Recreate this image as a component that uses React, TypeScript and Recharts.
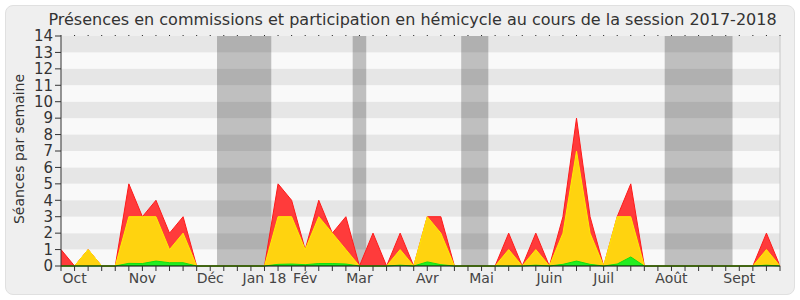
import { Area, ComposedChart, ReferenceArea, ReferenceLine, XAxis, YAxis } from "recharts";

const weeks = Array.from({ length: 54 }, (_, i) => i);

const totalSeances = [
  1, 0, 1, 0, 0, 5, 3, 4, 2, 3, 0, 0, 0, 0, 0, 0, 5, 4, 1, 4, 2, 3, 0, 2, 0, 2, 0,
  3, 3, 0, 0, 0, 0, 2, 0, 2, 0, 3, 9, 3, 0, 3, 5, 0, 0, 0, 0, 0, 0, 0, 0, 0, 2, 0,
];
const commissionSeances = [
  0, 0, 1, 0, 0, 3, 3, 3, 1, 2, 0, 0, 0, 0, 0, 0, 3, 3, 1, 3, 2, 1, 0, 0, 0, 1, 0,
  3, 2, 0, 0, 0, 0, 1, 0, 1, 0, 2, 7, 2, 0, 3, 3, 0, 0, 0, 0, 0, 0, 0, 0, 0, 1, 0,
];
const hemicycleSeances = [
  0, 0, 0, 0, 0, 0.16, 0.15, 0.3, 0.2, 0.2, 0, 0, 0, 0, 0, 0, 0.1, 0.12, 0.08, 0.15,
  0.15, 0.12, 0, 0, 0, 0.05, 0, 0.25, 0.08, 0, 0, 0, 0, 0, 0, 0.05, 0, 0.1, 0.3, 0.1,
  0, 0.12, 0.55, 0, 0, 0, 0, 0, 0, 0, 0, 0, 0.05, 0,
];

const monthWeeks = [1, 6, 11, 15, 18, 22, 27, 31, 36, 40, 45, 50];
const monthNames = ["Oct", "Nov", "Déc", "Jan 18", "Fév", "Mar", "Avr", "Mai", "Juin", "Juil", "Août", "Sept"];

// vacances parlementaires (en semaines)
const breaks = [
  [11.5, 15.5],
  [21.5, 22.5],
  [29.5, 31.5],
  [44.5, 49.5],
];

const yTicks = Array.from({ length: 15 }, (_, i) => i);

const data = weeks.map((w) => ({
  week: w,
  total: totalSeances[w],
  commission: commissionSeances[w],
  hemicycle: hemicycleSeances[w],
}));

const weekLabel = (w: number) => {
  const k = monthWeeks.indexOf(w);
  return k >= 0 ? monthNames[k] : "";
};

const font = "'DejaVu Sans', Verdana, sans-serif";

export default function App() {
  return (
    <div style={{ position: "absolute", left: 0, top: 0, width: 800, height: 300, fontFamily: font }}>
      <div
        style={{
          position: "absolute",
          left: 5,
          top: 5,
          width: 788,
          height: 288,
          background: "#efefef",
          border: "1px solid #e0e0e0",
          borderRadius: 8,
        }}
      />
      <div
        style={{
          position: "absolute",
          left: 0,
          width: 825,
          top: 10,
          textAlign: "center",
          fontSize: 16,
          color: "#333",
          whiteSpace: "nowrap",
        }}
      >
        Présences en commissions et participation en hémicycle au cours de la session 2017-2018
      </div>
      <div
        style={{
          position: "absolute",
          left: 19,
          top: 149,
          transform: "translate(-50%, -50%) rotate(-90deg)",
          fontSize: 14,
          color: "#333",
          whiteSpace: "nowrap",
        }}
      >
        Séances par semaine
      </div>
      <div style={{ position: "absolute", left: 0, top: 0 }}>
        <ComposedChart width={800} height={300} data={data} margin={{ top: 34, right: 20, bottom: 4, left: 21 }}>
          {yTicks
            .filter((t) => t % 2 === 1)
            .map((t) => (
              <ReferenceArea key={"s" + t} y1={t} y2={t + 1} fill="#e6e6e6" fillOpacity={1} stroke="none" />
            ))}
          {yTicks
            .filter((t) => t % 2 === 0 && t < 14)
            .map((t) => (
              <ReferenceArea key={"l" + t} y1={t} y2={t + 1} fill="#f9f9f9" fillOpacity={1} stroke="none" />
            ))}
          {breaks.map(([a, b]) => (
            <ReferenceArea key={a} x1={a} x2={b} fill="#000" fillOpacity={0.23} stroke="none" />
          ))}
          <ReferenceLine x={53} stroke="#c8c8c8" strokeWidth={1} />
          <XAxis
            xAxisId="top"
            orientation="top"
            dataKey="week"
            type="number"
            domain={[0, 53]}
            ticks={weeks}
            interval={0}
            height={2}
            tickSize={1}
            axisLine={false}
            tickLine={{ stroke: "#222" }}
            tickFormatter={() => ""}
          />
          <XAxis
            dataKey="week"
            type="number"
            domain={[0, 53]}
            ticks={weeks}
            interval={0}
            height={30}
            tickSize={5}
            tickFormatter={weekLabel}
            axisLine={{ stroke: "#000" }}
            tickLine={{ stroke: "#333" }}
            tick={{ fontSize: 14, fill: "#444", fontFamily: font }}
          />
          <YAxis
            type="number"
            domain={[0, 14]}
            ticks={yTicks}
            interval={0}
            width={40}
            tickSize={6}
            axisLine={{ stroke: "#333" }}
            tickLine={{ stroke: "#333" }}
            tick={{ fontSize: 15, fill: "#333", fontFamily: font }}
          />
          <Area
            type="linear"
            dataKey="total"
            stroke="#ff1a1a"
            strokeWidth={1}
            fill="#ff3b3b"
            fillOpacity={1}
            isAnimationActive={false}
          />
          <Area
            type="linear"
            dataKey="commission"
            stroke="#ffee00"
            strokeWidth={1}
            fill="#ffd30f"
            fillOpacity={1}
            isAnimationActive={false}
          />
          <Area
            type="linear"
            dataKey="hemicycle"
            stroke="#11e011"
            strokeWidth={1}
            fill="#22ee22"
            fillOpacity={1}
            isAnimationActive={false}
          />
        </ComposedChart>
      </div>
    </div>
  );
}
